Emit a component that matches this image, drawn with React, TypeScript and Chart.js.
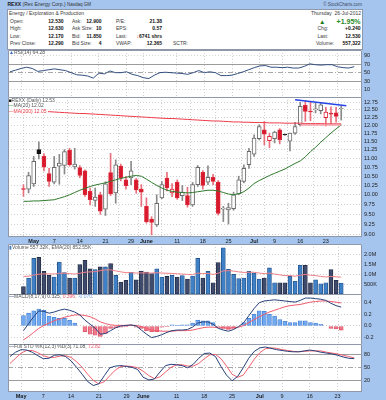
import React, { useEffect, useRef } from "react";
import { Chart, registerables } from "chart.js";

Chart.register(...registerables);

const W = 386;
const FONT = "'Liberation Sans', Arial, Helvetica, sans-serif";
const BG = "#A5C5EF";
const PANEL_BORDER = "#8e98a8";

// ---------------- data ----------------
const DATES = [
  "Apr 27", "Apr 30", "May 1", "May 2", "May 3", "May 4", "May 7", "May 8", "May 9", "May 10", "May 11",
  "May 14", "May 15", "May 16", "May 17", "May 18", "May 21", "May 22", "May 23", "May 24", "May 25",
  "May 29", "May 30", "May 31", "Jun 1", "Jun 4", "Jun 5", "Jun 6", "Jun 7", "Jun 8", "Jun 11", "Jun 12",
  "Jun 13", "Jun 14", "Jun 15", "Jun 18", "Jun 19", "Jun 20", "Jun 21", "Jun 22", "Jun 25", "Jun 26",
  "Jun 27", "Jun 28", "Jun 29", "Jul 2", "Jul 3", "Jul 5", "Jul 6", "Jul 9", "Jul 10", "Jul 11", "Jul 12",
  "Jul 13", "Jul 16", "Jul 17", "Jul 18", "Jul 19", "Jul 20", "Jul 23", "Jul 24", "Jul 25", "Jul 26",
];

const OPEN = [
  10.16, 10.15, 10.29, 11.26, 11.06, 10.57, 10.34, 10.78, 10.8, 11.24,
  10.76, 10.74, 10.65, 10.09, 9.85, 10.0, 9.63, 10.6, 10.05, 10.78,
  10.4, 10.45, 10.4, 10.15, 9.7, 9.38, 9.24, 9.92, 10.45, 10.05,
  10.34, 9.98, 9.98, 9.74, 10.27, 10.61, 10.34, 10.47, 10.34, 9.63,
  9.61, 9.64, 10.02, 10.36, 10.82, 11.13, 11.59, 11.86, 11.53, 11.59,
  11.86, 11.71, 11.51, 11.76, 12.02, 12.65, 12.45, 12.5, 12.47, 12.25,
  12.38, 12.4, 12.53,
];
const HIGH = [
  10.27, 10.61, 11.06, 11.49, 11.14, 10.72, 11.06, 11.12, 11.26, 11.3,
  11.3, 10.8, 10.68, 10.18, 10.18, 10.07, 10.35, 11.15, 10.96, 10.84,
  10.5, 10.92, 10.44, 10.27, 9.92, 9.44, 10.0, 10.35, 10.61, 10.3,
  10.4, 10.25, 10.2, 10.33, 10.8, 10.66, 10.79, 10.55, 10.38, 9.7,
  9.78, 10.07, 10.5, 10.82, 11.3, 11.71, 12.02, 12.12, 11.76, 11.82,
  11.9, 11.73, 11.76, 12.1, 12.75, 12.8, 12.78, 12.72, 12.73, 12.58,
  12.6, 12.58, 12.63,
];
const LOW = [
  9.96, 10.05, 10.22, 10.99, 10.65, 10.22, 10.29, 10.28, 10.56, 10.78,
  10.7, 10.46, 9.96, 9.74, 9.7, 9.5, 9.47, 9.98, 9.78, 10.37,
  10.15, 10.27, 10.04, 9.7, 9.28, 9.0, 9.2, 9.9, 10.1, 9.95,
  9.88, 9.85, 9.68, 9.7, 10.22, 10.15, 10.27, 10.27, 9.48, 9.32,
  9.26, 9.6, 10.0, 10.32, 10.72, 11.06, 11.55, 11.4, 11.32, 11.46,
  11.43, 11.69, 11.22, 11.72, 11.98, 12.13, 12.15, 12.4, 12.37, 11.98,
  12.05, 12.1, 12.17,
];
const CLOSE = [
  10.14, 10.52, 10.92, 11.14, 10.75, 10.36, 10.75, 10.87, 11.2, 10.82,
  10.84, 10.52, 10.0, 9.87, 9.94, 9.58, 10.29, 10.02, 10.82, 10.45,
  10.24, 10.65, 10.13, 10.07, 9.32, 9.3, 9.78, 10.27, 10.18, 10.15,
  9.92, 10.07, 9.74, 10.27, 10.75, 10.25, 10.47, 10.36, 9.52, 9.65,
  9.67, 10.0, 10.4, 10.72, 11.21, 11.61, 11.96, 11.73, 11.66, 11.79,
  11.56, 11.7, 11.76, 11.96, 12.62, 12.45, 12.43, 12.52, 12.67, 12.43,
  12.36, 12.29, 12.53,
];
const PRIOR_CLOSE = 10.22;

const MA20 = [
  9.83, 9.83, 9.84, 9.84, 9.85, 9.86, 9.87, 9.91, 9.95, 10.0,
  10.06, 10.12, 10.17, 10.22, 10.26, 10.29, 10.32, 10.36, 10.4, 10.44,
  10.47, 10.5, 10.52, 10.5, 10.42, 10.33, 10.25, 10.18, 10.12, 10.09,
  10.07, 10.06, 10.05, 10.06, 10.08, 10.1, 10.12, 10.12, 10.1, 10.06,
  10.02, 10.0, 10.03, 10.08, 10.18, 10.3, 10.38, 10.45, 10.52, 10.58,
  10.64, 10.7, 10.78, 10.86, 10.93, 11.05, 11.2, 11.33, 11.48, 11.62,
  11.76, 11.89, 12.02,
];
const MA200 = [
  12.48, 12.47, 12.46, 12.46, 12.45, 12.44, 12.43, 12.42, 12.41, 12.4,
  12.39, 12.38, 12.38, 12.37, 12.36, 12.35, 12.34, 12.33, 12.32, 12.31,
  12.3, 12.29, 12.28, 12.27, 12.26, 12.25, 12.24, 12.23, 12.22, 12.22,
  12.21, 12.2, 12.19, 12.18, 12.17, 12.16, 12.15, 12.14, 12.14, 12.13,
  12.12, 12.11, 12.11, 12.1, 12.1, 12.09, 12.09, 12.09, 12.08, 12.08,
  12.08, 12.07, 12.07, 12.07, 12.07, 12.06, 12.06, 12.06, 12.06, 12.05,
  12.05, 12.05, 12.05,
];
const TREND_TOP_X = [53, 63];
const TREND_TOP_Y = [12.84, 12.64];
const TREND_BOTTOM_X = [54, 62];
const TREND_BOTTOM_Y = [12.02, 12.02];

const VOLUME_K = [
  380, 810, 1800, 1850, 1150, 940, 860, 1620, 1080, 810,
  810, 1490, 1710, 1270, 1230, 1370, 1370, 1540, 940, 600,
  690, 1100, 720, 1160, 1110, 1030, 1270, 860, 890, 940,
  860, 930, 760, 910, 1800, 810, 1150, 570, 1590, 2340,
  1250, 990, 780, 810, 1150, 1060, 760, 810, 1320, 570,
  570, 570, 890, 640, 1450, 1450, 570, 720, 520, 570,
  1230, 690, 557.32,
];
const VOLUME_EMA_K = [
  890, 900, 960, 1000, 1020, 1020, 1010, 1050, 1050, 1030,
  1010, 1050, 1100, 1120, 1130, 1180, 1220, 1220, 1170, 1120,
  1080, 1080, 1060, 1070, 1070, 1060, 1080, 1060, 1050, 1040,
  1020, 1010, 990, 980, 1060, 1030, 1040, 990, 1050, 1170,
  1180, 1160, 1120, 1090, 1100, 1100, 1060, 1030, 1060, 1010,
  970, 930, 930, 900, 950, 990, 950, 930, 890, 860,
  890, 870, 852.55,
];

const RSI = [
  52, 56, 60, 63, 60, 53, 55, 57, 59, 57,
  55, 50, 45, 44, 42, 37, 49, 47, 54, 50,
  50, 52, 46, 43, 38, 36, 44, 50, 51, 50,
  49, 48, 46, 50, 55, 50, 52, 50, 43, 43,
  44, 48, 52, 57, 62, 66, 67, 63, 63, 62,
  63, 61, 61, 65, 71, 69, 68, 69, 69, 64,
  62, 61, 64.28,
];

const MACD = [
  -0.08, 0.04, 0.16, 0.26, 0.25, 0.22, 0.24, 0.27, 0.29, 0.27,
  0.24, 0.19, 0.1, 0.03, -0.04, -0.14, -0.13, -0.08, -0.03, 0.0,
  0.01, 0.02, 0.0, -0.07, -0.14, -0.2, -0.18, -0.15, -0.11, -0.08,
  -0.07, -0.07, -0.06, -0.02, 0.05, 0.07, 0.07, 0.03, -0.04, -0.07,
  -0.09, -0.06, -0.01, 0.06, 0.18, 0.3, 0.4, 0.43, 0.44, 0.45,
  0.44, 0.43, 0.42, 0.41, 0.44, 0.48, 0.48, 0.47, 0.46, 0.44,
  0.39, 0.35, 0.325,
];
const MACD_SIGNAL = [
  -0.24, -0.18, -0.11, -0.04, 0.01, 0.05, 0.09, 0.12, 0.15, 0.17,
  0.19, 0.19, 0.18, 0.16, 0.12, 0.07, 0.04, 0.02, 0.01, 0.01,
  0.01, 0.01, 0.01, -0.01, -0.04, -0.07, -0.08, -0.09, -0.09, -0.09,
  -0.08, -0.08, -0.08, -0.07, -0.05, -0.03, -0.02, -0.02, -0.03, -0.03,
  -0.04, -0.03, -0.02, 0.01, 0.06, 0.11, 0.16, 0.2, 0.24, 0.27,
  0.3, 0.33, 0.35, 0.36, 0.37, 0.39, 0.41, 0.42, 0.43, 0.43,
  0.42, 0.41, 0.396,
];
const MACD_HIST = [
  0.18, 0.22, 0.26, 0.29, 0.27, 0.17, 0.15, 0.13, 0.13, 0.1,
  0.05, 0.0, -0.1, -0.14, -0.16, -0.18, -0.13, -0.04, -0.03, -0.02,
  -0.01, 0.01, -0.02, -0.04, -0.08, -0.1, -0.1, -0.02, -0.01, 0.02,
  0.01, 0.02, 0.02, 0.05, 0.1, 0.09, 0.09, 0.06, -0.01, -0.04,
  -0.06, -0.04, 0.0, 0.06, 0.13, 0.2, 0.26, 0.25, 0.2, 0.17,
  0.11, 0.08, 0.06, 0.06, 0.09, 0.09, 0.06, 0.05, 0.03, 0.0,
  -0.04, -0.05, -0.07,
];

const STO_K = [
  76, 86, 92, 91, 86, 78, 71, 72, 79, 80,
  76, 66, 51, 35, 18, 9, 13, 32, 50, 54,
  55, 53, 51, 46, 28, 22, 24, 40, 55, 58,
  57, 55, 50, 58, 72, 83, 84, 76, 53, 33,
  20, 30, 50, 72, 88, 96, 98, 95, 92, 90,
  88, 87, 87, 89, 91, 89, 86, 84, 82, 79,
  75, 72, 71.08,
];
const STO_D = [
  60, 72, 84, 90, 90, 85, 78, 74, 74, 77,
  78, 74, 64, 51, 35, 21, 13, 18, 32, 45,
  53, 54, 53, 50, 42, 32, 25, 29, 40, 51,
  57, 57, 54, 54, 60, 71, 80, 81, 71, 54,
  35, 28, 33, 51, 70, 85, 94, 96, 95, 92,
  90, 88, 87, 88, 89, 89, 89, 86, 84, 82,
  79, 76, 72.82,
];

const X_TICK_INDEX = [2, 6, 11, 16, 21, 24, 30, 35, 40, 45, 49, 54, 59];
const X_TICK_LABELS = ["May", "7", "14", "21", "29", "June", "11", "18", "25", "Jul", "9", "16", "23"];
const MONTH_LABELS = ["May", "June", "Jul"];

const PRICE_TICKS = [9, 9.25, 9.5, 9.75, 10, 10.25, 10.5, 10.75, 11, 11.25, 11.5, 11.75, 12, 12.25, 12.5, 12.75];
const RSI_TICKS = [10, 30, 50, 70, 90];
const VOLUME_TICKS = [500, 1000, 1500, 2000];
const VOLUME_TICK_LABELS = ["500K", "1.0M", "1.5M", "2.0M"];
const MACD_TICKS = [-0.2, 0, 0.2, 0.4];
const STO_TICKS = [20, 50, 80];

// ---------------- helpers ----------------
const X_MIN = -0.36;
const X_MAX = 63.4;

const pts = (arr: number[]) => arr.map((v, i) => ({ x: i, y: v }));

function xAxis(labels: boolean, band: number) {
  return {
    type: "linear",
    bounds: "data",
    min: X_MIN,
    max: X_MAX,
    afterBuildTicks: (s: any) => {
      s.ticks = X_TICK_INDEX.map((v) => ({ value: v }));
    },
    afterFit: (s: any) => {
      s.height = band;
      s.paddingLeft = 0;
      s.paddingRight = 0;
    },
    grid: { color: "#cfcfcf", lineWidth: 1, drawTicks: false },
    border: { display: false, dash: [1, 2] },
    ticks: {
      display: labels,
      autoSkip: false,
      maxRotation: 0,
      minRotation: 0,
      padding: 1,
      color: "#1a1a1a",
      font: (c: any) => ({
        family: FONT,
        size: 5.5,
        weight: MONTH_LABELS.includes(X_TICK_LABELS[c.index]) ? "bold" : "normal",
      }),
      callback: (_v: any, i: number) => X_TICK_LABELS[i],
    },
  };
}

function yAxis(o: any) {
  return {
    position: "right",
    bounds: "data",
    min: o.min,
    max: o.max,
    type: o.type || "linear",
    afterBuildTicks: (s: any) => {
      s.ticks = o.ticks.map((v: number) => ({ value: v }));
    },
    afterFit: (s: any) => {
      s.width = 24;
      s.paddingTop = 0;
      s.paddingBottom = 0;
    },
    grid: { drawTicks: false, lineWidth: 1, color: o.gridColor || "#cfcfcf" },
    border: { display: false, dash: o.dash || [1, 2] },
    ticks: {
      autoSkip: false,
      padding: 2,
      color: "#222",
      font: { family: FONT, size: 5.5 },
      callback: o.callback,
    },
  };
}

const panelPlugin = {
  id: "panelFrame",
  beforeDraw(chart: any) {
    const { ctx, chartArea: a } = chart;
    ctx.save();
    ctx.fillStyle = "#ffffff";
    ctx.fillRect(a.left, a.top, a.right - a.left, a.bottom - a.top);
    ctx.restore();
  },
  afterDraw(chart: any) {
    const { ctx, chartArea: a } = chart;
    ctx.save();
    ctx.strokeStyle = PANEL_BORDER;
    ctx.lineWidth = 1;
    ctx.beginPath();
    ctx.moveTo(a.left + 0.5, a.bottom);
    ctx.lineTo(a.left + 0.5, a.top + 0.5);
    ctx.lineTo(a.right - 0.5, a.top + 0.5);
    ctx.lineTo(a.right - 0.5, a.bottom);
    if (chart.options.plugins.panelFrame && chart.options.plugins.panelFrame.bottom) {
      ctx.moveTo(a.left, a.bottom - 0.5);
      ctx.lineTo(a.right, a.bottom - 0.5);
    }
    ctx.stroke();
    ctx.restore();
  },
};

function base(x: any, y: any, bottom = false) {
  return {
    responsive: false,
    animation: false,
    devicePixelRatio: 1,
    events: [],
    layout: { padding: { left: 8, right: 0, top: 0, bottom: 0 } },
    plugins: { legend: { display: false }, tooltip: { enabled: false }, panelFrame: { bottom } },
    scales: { x, y },
  };
}

const lineDs = (data: any, color: string, width = 1, order = -1) => ({
  type: "line",
  data,
  borderColor: color,
  borderWidth: width,
  pointRadius: 0,
  fill: false,
  tension: 0,
  order,
});

// ---------------- chart builders ----------------
function rsiConfig() {
  const special = (v: any) => v === 30 || v === 70;
  return {
    type: "line",
    data: { datasets: [lineDs(pts(RSI), "#33507f", 1)] },
    options: base(
      xAxis(false, 0),
      yAxis({
        min: -8,
        max: 104,
        ticks: RSI_TICKS,
        callback: (v: any) => String(v),
        gridColor: (c: any) => (c.tick && special(c.tick.value) ? "#9c9c9c" : c.tick && c.tick.value === 50 ? "#a8a8a8" : "#d6d6d6"),
        dash: (c: any) => {
          const v = c.tick ? c.tick.value : null;
          return special(v) ? [] : v === 50 ? [5, 2, 1, 2] : [1, 2];
        },
      })
    ),
    plugins: [panelPlugin],
  };
}

function priceConfig() {
  const bodies = CLOSE.map((c, i) => ({ x: i, y: [OPEN[i], c] }));
  const wicks = CLOSE.map((_, i) => ({ x: i, y: [LOW[i], HIGH[i]] }));
  const gain = CLOSE.map((c, i) => c >= (i === 0 ? PRIOR_CLOSE : CLOSE[i - 1]));
  const hollow = CLOSE.map((c, i) => c >= OPEN[i]);
  const lineCol = gain.map((g) => (g ? "#6a6a6a" : "#dc2a3a"));
  const fillCol = CLOSE.map((_, i) => (hollow[i] ? "#ffffff" : gain[i] ? "#111111" : "#d8182c"));
  const edgeCol = CLOSE.map((_, i) => (!hollow[i] && gain[i] ? "#111111" : lineCol[i]));
  const wickCol = gain.map((g) => (g ? "#8a8a8a" : "#e8707c"));
  return {
    type: "bar",
    data: {
      datasets: [
        lineDs(pts(MA20), "#2f7a2c", 1, -1),
        lineDs(pts(MA200), "#ee3a48", 1, -1),
        lineDs(TREND_BOTTOM_X.map((x, k) => ({ x, y: TREND_BOTTOM_Y[k] })), "rgba(244,150,160,0.85)", 2, -2),
        lineDs(TREND_TOP_X.map((x, k) => ({ x, y: TREND_TOP_Y[k] })), "#2443e8", 1.5, -2),
        {
          type: "bar",
          data: bodies,
          backgroundColor: fillCol,
          borderColor: edgeCol,
          borderWidth: 1,
          borderSkipped: false,
          barThickness: 4,
          minBarLength: 1,
          grouped: false,
          order: 0,
        },
        {
          type: "bar",
          data: wicks,
          backgroundColor: wickCol,
          borderWidth: 0,
          barThickness: 1,
          grouped: false,
          order: 1,
        },
      ],
    },
    options: base(
      xAxis(true, 7),
      yAxis({
        type: "logarithmic",
        min: 8.95,
        max: 12.93,
        ticks: PRICE_TICKS,
        callback: (v: any) => Number(v).toFixed(2),
      }),
      true
    ),
    plugins: [panelPlugin],
  };
}

function volumeConfig() {
  const up = CLOSE.map((c, i) => c >= OPEN[i]);
  return {
    type: "bar",
    data: {
      datasets: [
        lineDs(pts(VOLUME_EMA_K), "#f07f88", 1, -1),
        {
          type: "bar",
          data: pts(VOLUME_K),
          backgroundColor: up.map((u) => (u ? "#3f80c6" : "#3f4b6c")),
          borderColor: up.map((u) => (u ? "#24568e" : "#222b44")),
          borderWidth: 0.8,
          borderSkipped: false,
          barThickness: 4,
          grouped: false,
          order: 1,
        },
      ],
    },
    options: base(
      xAxis(false, 0),
      yAxis({
        min: 0,
        max: 2530,
        ticks: VOLUME_TICKS,
        callback: (_v: any, i: number) => VOLUME_TICK_LABELS[i],
      })
    ),
    plugins: [panelPlugin],
  };
}

function macdConfig() {
  return {
    type: "bar",
    data: {
      datasets: [
        lineDs(pts(MACD), "#27407a", 1, -2),
        lineDs(pts(MACD_SIGNAL), "#f05a6c", 1, -1),
        {
          type: "bar",
          data: pts(MACD_HIST),
          backgroundColor: MACD_HIST.map((v) => (v >= 0 ? "#72a8ee" : "#f07a8c")),
          borderColor: MACD_HIST.map((v) => (v >= 0 ? "#4a86d6" : "#d85268")),
          borderWidth: 0.8,
          borderSkipped: false,
          barThickness: 4,
          grouped: false,
          order: 1,
        },
      ],
    },
    options: base(
      xAxis(false, 0),
      yAxis({
        min: -0.31,
        max: 0.55,
        ticks: MACD_TICKS,
        callback: (v: any) => Number(v).toFixed(1),
      })
    ),
    plugins: [panelPlugin],
  };
}

function stoConfig() {
  const special = (v: any) => v === 20 || v === 80;
  return {
    type: "line",
    data: {
      datasets: [lineDs(pts(STO_D), "#f0606e", 1, -1), lineDs(pts(STO_K), "#27407a", 1, -2)],
    },
    options: base(
      xAxis(true, 8),
      yAxis({
        min: -6,
        max: 105,
        ticks: STO_TICKS,
        callback: (v: any) => String(v),
        gridColor: (c: any) => (c.tick && special(c.tick.value) ? "#9c9c9c" : "#a8a8a8"),
        dash: (c: any) => {
          const v = c.tick ? c.tick.value : null;
          return special(v) ? [] : v === 50 ? [5, 2, 1, 2] : [1, 2];
        },
      }),
      true
    ),
    plugins: [panelPlugin],
  };
}

// ---------------- components ----------------
function Panel({ top, height, build }: { top: number; height: number; build: () => any }) {
  const ref = useRef<HTMLCanvasElement | null>(null);
  useEffect(() => {
    const chart = new Chart(ref.current as HTMLCanvasElement, build());
    return () => chart.destroy();
  }, []);
  return (
    <canvas
      ref={ref}
      width={W}
      height={height}
      style={{ position: "absolute", left: 0, top, width: W, height, display: "block" }}
    />
  );
}

function T(props: {
  x: number;
  y: number;
  right?: boolean;
  bold?: boolean;
  color?: string;
  size?: number;
  bg?: string;
  children: any;
}) {
  const { x, y, right, bold, color = "#3a3a3a", size = 5, bg, children } = props;
  return (
    <div
      style={{
        position: "absolute",
        top: y,
        left: right ? undefined : x,
        right: right ? W - x : undefined,
        transform: "translateY(-50%)",
        fontFamily: FONT,
        fontSize: size,
        fontWeight: bold ? 700 : 400,
        color,
        lineHeight: 1.05,
        whiteSpace: "nowrap",
        background: bg,
        paddingRight: bg ? 1 : 0,
      }}
    >
      {children}
    </div>
  );
}

export default function App() {
  return (
    <div
      style={{
        position: "fixed",
        left: 0,
        top: 0,
        width: W,
        height: 400,
        background: BG,
        overflow: "hidden",
      }}
    >
      {/* title strip */}
      <T x={7.5} y={5} size={5} color="#1a1a1a">
        <b>REXX</b> <span style={{ color: "#333" }}>(Rex Energy Corp.)</span>{" "}
        <span style={{ color: "#333", fontSize: 4.5 }}>Nasdaq GM</span>
      </T>
      <T x={362} y={5} right size={4.5} color="#3c4a60">
        © StockCharts.com
      </T>

      {/* header box */}
      <div
        style={{
          position: "absolute",
          left: 7,
          top: 9,
          width: 356,
          height: 41,
          background: "#fff",
          border: `1px solid ${PANEL_BORDER}`,
          boxSizing: "border-box",
        }}
      />
      <T x={9} y={14}>Energy / Exploration &amp; Production</T>

      <T x={10} y={21.7}>Open:</T>
      <T x={63.5} y={21.7} right bold color="#111">12.530</T>
      <T x={72} y={21.7}>Ask:</T>
      <T x={101.5} y={21.7} right bold color="#111">12.900</T>
      <T x={116} y={21.7}>P/E:</T>
      <T x={162} y={21.7} right bold color="#111">21.38</T>

      <T x={10} y={29}>High:</T>
      <T x={63.5} y={29} right bold color="#111">12.630</T>
      <T x={72} y={29}>Ask Size:</T>
      <T x={101.5} y={29} right bold color="#111">10</T>
      <T x={116} y={29}>EPS:</T>
      <T x={162} y={29} right bold color="#111">0.57</T>

      <T x={10} y={36.7}>Low:</T>
      <T x={63.5} y={36.7} right bold color="#111">12.170</T>
      <T x={72} y={36.7}>Bid:</T>
      <T x={101.5} y={36.7} right bold color="#111">11.850</T>
      <T x={116} y={36.7}>Last:</T>
      <T x={162} y={36.7} right bold color="#111">
        <span style={{ color: "#d0101c" }}>↓</span>6741 shrs
      </T>

      <T x={10} y={44}>Prev Close:</T>
      <T x={63.5} y={44} right bold color="#111">12.290</T>
      <T x={72} y={44}>Bid Size:</T>
      <T x={101.5} y={44} right bold color="#111">4</T>
      <T x={116} y={44}>VWAP:</T>
      <T x={162} y={44} right bold color="#111">12.365</T>
      <T x={173} y={44}>SCTR:</T>

      <T x={361} y={13.5} right>Thursday&nbsp;&nbsp;26-Jul-2012</T>
      <T x={319} y={21.8} size={6.5} color="#1e7a1e">▲</T>
      <T x={360.5} y={21.8} right bold size={7} color="#2a8a2a">+1.95%</T>
      <T x={317.5} y={29}>Chg:</T>
      <T x={360.5} y={29} right bold color="#111">+0.240</T>
      <T x={317.5} y={36.7}>Last:</T>
      <T x={360.5} y={36.7} right bold color="#111">12.530</T>
      <T x={316} y={44}>Volume:</T>
      <T x={360.5} y={44} right bold color="#111">557,322</T>

      {/* chart panels */}
      <Panel top={50} height={47} build={rsiConfig} />
      <Panel top={97} height={147} build={priceConfig} />
      <Panel top={244} height={50} build={volumeConfig} />
      <Panel top={294} height={50} build={macdConfig} />
      <Panel top={344} height={56} build={stoConfig} />

      {/* panel legends */}
      <T x={9} y={52.6} color="#555">
        <span style={{ color: "#3b6fc0" }}>▲</span>RSI(14) 64.28
      </T>

      <T x={8.5} y={100.7} color="#555" bg="#fff">
        <span style={{ color: "#111" }}>■</span>REXX (Daily) 12.53
      </T>
      <T x={8.5} y={106.2} color="#555" bg="#fff">
        <span style={{ color: "#2f7a2c" }}>—</span>MA(20) 12.02
      </T>
      <T x={8.5} y={111.5} color="#ee3a48" bg="#fff">
        —MA(200) 12.05
      </T>

      <T x={9} y={247.8} color="#555">
        <span style={{ color: "#3f80c6" }}>▮</span>Volume 557.32K, EMA(20) 852.55K
      </T>

      <T x={9} y={297.4} color="#555">
        <span style={{ color: "#27407a" }}>—</span>MACD(8,17,9) 0.325,{" "}
        <span style={{ color: "#f05a6c" }}>0.396,</span> <span style={{ color: "#7aa6e6" }}>-0.070</span>
      </T>

      <T x={9} y={347.2} color="#555">
        <span style={{ color: "#27407a" }}>—</span>Full STO %K(12,3) %D(3) 71.08,{" "}
        <span style={{ color: "#f05a6c" }}>72.82</span>
      </T>
    </div>
  );
}
